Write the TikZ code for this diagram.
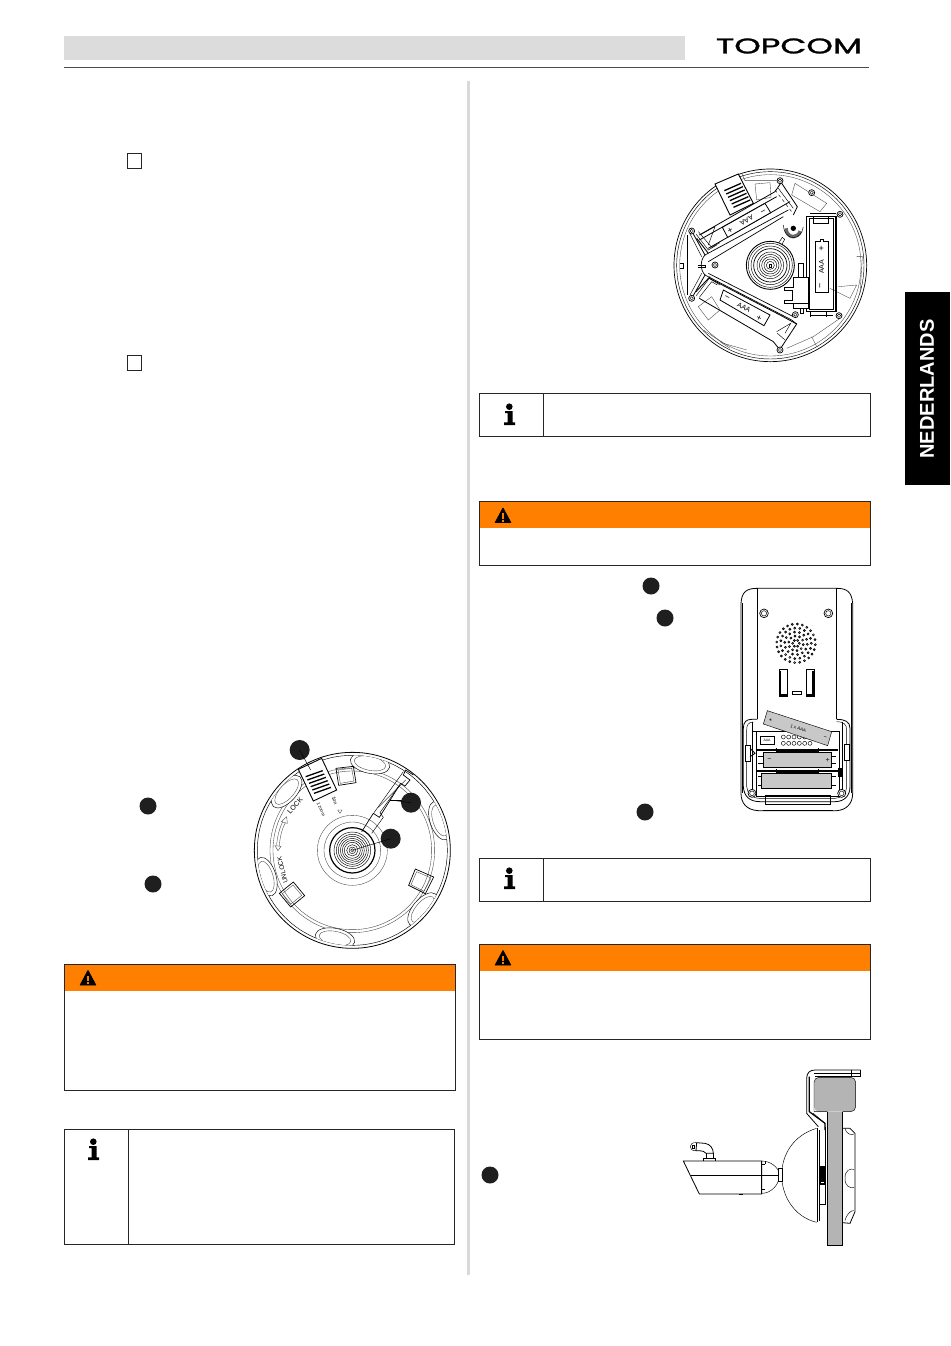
\documentclass[tikz,border=0pt]{standalone}
\usepackage{fontspec}
\usepackage{graphicx}
\setmainfont{Liberation Sans}
\newfontfamily\logofont[FakeBold=1.2]{Poppins}
\definecolor{hdr}{HTML}{DCDCDC}
\definecolor{sep}{HTML}{D9D9D9}
\definecolor{orng}{HTML}{FF7F00}
\definecolor{wallg}{HTML}{B4B4B4}
\definecolor{batg}{HTML}{C8C8C8}
\tikzset{
 thin1/.style={draw=black,line width=0.45pt},
 thin2/.style={draw=black!75,line width=0.35pt},
 thick1/.style={draw=black,line width=0.9pt},
 thick2/.style={draw=black,line width=1.5pt},
 box/.style={draw=black!85,line width=1pt},
 marker/.style={fill=black!88,draw=none},
 zoomed/.style={x=0.33333pt,y=-0.33333pt},
 infoicon/.pic={
  \fill (-0.7,-9.3) circle [radius=3.3];
  \fill (-5,-5) -- (2.7,-5) -- (2.7,6.3) -- (5,6.3) -- (5,9) -- (-6,9) -- (-6,6.3) -- (-2.5,6.3) -- (-2.5,-3) -- (-5,-3) -- cycle;
 },
 warnicon/.pic={
  \fill[line join=round,draw=black,line width=0.8pt] (0,-7.5) -- (7.8,7) -- (-7.8,7) -- cycle;
  \fill[orng] (-1,-2.5) rectangle (1,3);
  \fill[orng] (-1,4) rectangle (1,6);
 }
}
\begin{document}
\begin{tikzpicture}[x=1pt,y=-1pt]
\useasboundingbox (0,0) rectangle (950,1346);
\fill[white] (0,0) rectangle (950,1346);
% header
\fill[hdr] (64,36) rectangle (685,60);
\draw[draw=black!70,line width=1pt] (64,68) -- (869,68);
\node[anchor=center,inner sep=0pt] (logo) at (789,46) {\resizebox{146pt}{15pt}{\logofont TOPCOM}};
% separator
\draw[sep,line width=3pt] (468,81) -- (468,1275);
% language tab
\fill[black] (905,292) rectangle (950,485);
\node[rotate=90,text=white,font=\bfseries\fontsize{20}{20}\selectfont,inner sep=0pt] (tab) at (927,389) {NEDERLANDS};
% checkboxes
\draw[box,line width=0.8pt] (127,153) rectangle (141,168);
\draw[box,line width=0.8pt] (127,355) rectangle (141,370);
% info boxes
\draw[box] (479,393) rectangle (870,436); \draw[box] (543,393) -- (543,436);
\pic at (510,416) {infoicon};
\draw[box] (479,858) rectangle (870,901); \draw[box] (543,858) -- (543,901);
\pic at (510,880) {infoicon};
\draw[box] (64,1129) rectangle (454,1244); \draw[box] (128,1129) -- (128,1244);
\pic at (94,1151) {infoicon};
% warning boxes
\fill[orng] (479,501) rectangle (870,528); \draw[box] (479,501) rectangle (870,565);
\pic at (503,515.5) {warnicon};
\fill[orng] (479,944) rectangle (870,971); \draw[box] (479,944) rectangle (870,1039);
\pic at (503,958) {warnicon};
\fill[orng] (64,964) rectangle (455,991); \draw[box] (64,964) rectangle (455,1090);
\pic at (88,978) {warnicon};
% text markers
\foreach \p in {(148,806),(153,884),(651,586),(665,618),(645,812),(490,1175)}
  \fill[marker] \p circle [radius=8.5];
%% FIGURE 1
\begin{scope}[xshift=240pt,yshift=-730pt,zoomed]
 \coordinate (c1) at (337,361);
 \draw[thin1,line width=0.8pt] (c1) circle [radius=294];
 \draw[thin1] (c1) circle [radius=285];
 \draw[thin2] (c1) circle [radius=247];
 \draw[thin2] (c1) circle [radius=238];
 \begin{scope}
  \clip (c1) circle [radius=285];
  \foreach \x/\y/\rot in {390/100/-11.5,600/272/-71.6,140/185/48,78/440/107,285/625/169,548/538/-130}{
   \draw[thin1,fill=white,rotate around={\rot:(\x,\y)}] (\x,\y) ellipse [x radius=60,y radius=30];
   \draw[thin2,rotate around={\rot:(\x,\y)}] (\x,\y) ellipse [x radius=48,y radius=21];
  }
 \end{scope}
 % hub
 \draw[thin2] (c1) circle [radius=105];
 \draw[thin2] (c1) circle [radius=85];
 \draw[thick1,line width=1.2pt] (c1) circle [radius=68];
 \foreach \r in {55,48,42,36,30,24,17,10,5}
  \draw[thin1] (c1) circle [radius=\r];
 % grip
 \draw[thick1,fill=white] (175,118) -- (245,85) -- (290,180) -- (220,213) -- cycle;
 \foreach \t in {0,1,2,3,4,5}{
  \draw[black,line width=1.3pt] ({197+\t*5},{140+\t*10}) -- ({248+\t*5},{122+\t*10});
 }
 % squares
 \draw[thin1,line width=0.7pt] (288,115) -- (340,109) -- (348,158) -- (296,166) -- cycle;
 \draw[thin2] (294,120) -- (335,115) -- (342,153) -- (301,160) -- cycle;
 \draw[thin1,line width=0.7pt] (526,417) -- (581,441) -- (556,491) -- (506,466) -- cycle;
 \draw[thin2] (530,425) -- (573,444) -- (552,484) -- (513,464) -- cycle;
 \draw[thin1,line width=0.7pt] (118,490) -- (160,456) -- (194,497) -- (152,531) -- cycle;
 \draw[thin2] (127,491) -- (159,465) -- (185,496) -- (153,522) -- cycle;
 % slot
 \draw[thin1,line width=0.7pt] (365,305) -- (400,250) -- (418,262) -- (482,160) -- (495,168) -- (510,150) -- (490,135) -- (497,120) -- (520,135);
 \draw[thin1] (395,310) -- (430,262) -- (420,248) -- (475,170);
 \draw[thin1] (402,248) -- (490,125);
 \draw[thin1] (415,232) -- (497,150);
 \draw[thin1] (450,210) -- (490,210);
 % labels
 \node[rotate=48,inner sep=0pt,font=\fontsize{7}{7}\selectfont] (lock) at (165,226) {LOCK};
 \node[rotate=104,inner sep=0pt,font=\fontsize{6.5}{6.5}\selectfont] (unlock) at (127,420) {UNLOCK};
 \node[rotate=-66,inner sep=0pt,font=\fontsize{4.5}{4.5}\selectfont] (zoomtxt) at (243,238) {1 zoom};
 \node[rotate=-72,inner sep=0pt,font=\fontsize{5}{5}\selectfont] (ontxt) at (284,212) {1on};
 \draw[thin2] (293,240) -- (306,240) -- (300,250) -- cycle;
 \draw[thin2] (110,345) .. controls (112,320) and (118,295) .. (128,275);
 \draw[thin2] (118,347) .. controls (120,320) and (126,297) .. (136,278);
 \draw[thin2] (105,347) -- (123,349) -- (114,362) -- cycle;
 \draw[thin2] (124,275) -- (142,280) -- (140,260) -- cycle;
 % callouts
 \fill[marker] (179,60) coordinate (d1) circle [radius=30];
 \fill[marker] (513,218) coordinate (d2) circle [radius=30];
 \fill[marker] (452,326) coordinate (d3) circle [radius=30];
 \draw[thin1] (d1) -- (212,120);
 \draw[thin1] (d2) -- (450,210);
 \draw[thin1] (d3) -- (c1);
\end{scope}
%% FIGURE 2
\begin{scope}[xshift=660pt,yshift=-160pt,zoomed]
 \coordinate (c2) at (331,316);
 \draw[thin1,line width=0.7pt] (c2) circle [radius=289];
 \draw[thin1] (c2) circle [radius=281];
 \draw[thin2] (c2) circle [radius=272];
 % inner partial walls
 \draw[thin2] (245,40) -- (255,62) -- (350,62);
 \draw[thin2] (405,70) -- (500,130) -- (480,155) -- (395,105) -- cycle;
 \draw[thin2] (510,385) -- (570,415) -- (590,375) -- (535,380);
 \draw[thin2] (380,565) -- (460,530) -- (540,475);
 \draw[thin2] (115,440) -- (155,410) -- (180,450) -- (145,480) -- cycle;
 \draw[thin2] (130,510) -- (190,550) -- (260,570);
 \draw[thin2] (590,290) -- (607,290) -- (600,400);
 \draw[thin2] (285,72) -- (330,68) -- (333,112) -- (290,120) -- cycle;
 \draw[thin2] (180,545) -- (210,565);
 \draw[thin2] (455,530) -- (470,560);
 % grip
 \draw[thick1,fill=white] (165,72) -- (235,42) -- (280,130) -- (210,165) -- cycle;
 \foreach \t in {0,1,2,3,4,5}{
  \draw[black,line width=1.3pt] ({193+\t*5.5},{92+\t*10}) -- ({243+\t*5.5},{70+\t*10});
 }
 % triangular frame
 \draw[thick1,line width=0.7pt] (135,285) -- (385,150) (135,345) -- (395,480) -- (410,492);
 \draw[thick1,line width=0.7pt] (145,305) -- (370,170);
 \draw[thick1,line width=0.7pt] (145,340) -- (400,470);
 \draw[thin1,line width=0.7pt] (135,285) .. controls (120,300) and (120,330) .. (135,345);
 % left plate
 \draw[thin1,line width=0.8pt] (95,213) -- (135,285) (95,415) -- (135,345);
 \draw[thin1,line width=0.8pt] (82,225) -- (82,405);
 \draw[thin1] (90,222) -- (125,290) (90,405) -- (125,340);
 \draw[thin1] (60,310) -- (70,310) -- (70,325) -- (60,325) (115,315) -- (135,315) -- (135,322) -- (115,322);
 \draw[thin1] (108,222) -- (145,270) -- (170,255);
 \draw[thin1] (115,215) -- (155,262) -- (180,248);
 \draw[thin1] (108,408) -- (148,355) -- (180,375);
 \draw[thin1] (118,412) -- (155,365) -- (172,375);
 \draw[thick1] (108,395) -- (150,350) (110,235) -- (145,280);
 \draw[thin1] (120,225) -- (165,200) -- (145,255);
 % top holder
 \draw[thin1,line width=0.8pt] (118,225) -- (345,95) -- (362,70) (360,62) -- (412,140) -- (400,165);
 \draw[thin1,line width=0.8pt] (118,240) -- (350,110) (145,265) -- (390,125);
 \draw[thin1] (355,85) -- (400,145);
 \draw[thin1,dashed] (345,90) -- (395,155);
 % battery top
 \draw[thick1,line width=0.8pt,fill=white] (187,202) -- (315,130) -- (332,158) -- (203,232) -- cycle;
 \node[rotate=-150,inner sep=0pt,font=\fontsize{7}{7}\selectfont] (bt) at (260,181) {AAA};
 \node[rotate=-150,inner sep=0pt,font=\fontsize{9}{9}\selectfont] (bt1) at (210,210) {+};
 \node[rotate=-150,inner sep=0pt,font=\fontsize{9}{9}\selectfont] (bt2) at (307,150) {−};
 % bottom holder
 \draw[thin1,line width=0.8pt] (148,355) -- (360,465) -- (410,492) -- (362,565);
 \draw[thin1,line width=0.8pt] (118,415) -- (340,545) -- (360,570);
 \draw[thin1] (350,515) -- (392,490) -- (375,520) (352,520) -- (375,540);
 % battery bottom
 \draw[thick1,line width=0.8pt,fill=white] (190,390) -- (180,420) -- (312,497) -- (330,465) -- cycle;
 \node[rotate=-28,inner sep=0pt,font=\fontsize{7}{7}\selectfont] (bb) at (252,442) {AAA};
 \node[rotate=-28,inner sep=0pt,font=\fontsize{9}{9}\selectfont] (bb1) at (200,415) {−};
 \node[rotate=-28,inner sep=0pt,font=\fontsize{9}{9}\selectfont] (bb2) at (297,475) {+};
 % right holder
 \draw[black,line width=1.5pt] (440,170) rectangle (528,455);
 \draw[black,line width=1pt] (450,160) -- (528,160) (450,465) -- (520,465);
 \draw[thin1] (448,175) rectangle (520,447);
 \draw[thin1] (460,170) -- (460,190) -- (505,190) -- (505,170);
 \draw[thin1] (450,455) -- (450,470) (500,455) -- (500,470);
 \draw[thick1,line width=0.8pt,fill=white] (467,245) -- (480,245) -- (480,238) -- (490,238) -- (490,245) -- (505,245) -- (505,397) -- (467,397) -- cycle;
 \node[rotate=90,inner sep=0pt,font=\fontsize{7}{7}\selectfont] (br) at (484,320) {AAA};
 \node[inner sep=0pt,font=\fontsize{9}{9}\selectfont] (br1) at (484,266) {+};
 \node[rotate=90,inner sep=0pt,font=\fontsize{9}{9}\selectfont] (br2) at (484,379) {−};
 % screws
 \foreach \x/\y in {95/213,95/415,360/62,360/570,540/163,537/467,406/464,455/98,165/315}{
  \draw[thin1,line width=0.7pt,fill=white] (\x,\y) circle [radius=9];
  \draw[thin1] (\x,\y) circle [radius=5];
 }
 % knob
 \draw[black!60,line width=3.5pt] (378,205) arc (180:20:22 and 25);
 \draw[thin1] (370,195) arc (180:10:30 and 38);
 \fill[black] (400,205) circle [radius=8];
 \draw[thin1] (352,255) -- (367,232) -- (374,238) -- (362,260);
 % hub
 \draw[thick1,fill=white] (c2) circle [radius=72];
 \draw[thin1] (c2) circle [radius=66];
 \draw[thin1] (c2) circle [radius=58];
 \draw[thick1,line width=0.7pt] (c2) circle [radius=50];
 \foreach \r in {40,33,26,19,12}
  \draw[thin1] (c2) circle [radius=\r];
 \draw[thin1] (327,312) rectangle (335,321);
 % motor
 \draw[thin1,line width=0.8pt,fill=white] (400,352) -- (445,352) -- (445,445) -- (400,445) -- (400,430) -- (372,430) -- (372,382) -- (400,382) -- cycle;
 \draw[thick1,fill=white] (372,390) -- (397,390) -- (397,422) -- (372,422);
 \draw[thin1] (415,352) -- (415,310) -- (430,310) -- (430,352);
 \draw[thin1] (400,430) -- (445,430);
 \draw[thin1] (422,445) -- (422,460) -- (430,460) -- (430,445);
\end{scope}
%% FIGURE 3
\begin{scope}[xshift=730pt,yshift=-580pt,zoomed]
 \draw[thin1,line width=0.8pt] (82,25) .. controls (50,25) and (35,35) .. (33,70) -- (33,640) .. controls (33,670) and (50,690) .. (85,692) -- (320,692) .. controls (350,690) and (368,670) .. (368,640) -- (368,70) .. controls (365,35) and (350,25) .. (320,25) -- cycle;
 \draw[thin1] (38,70) -- (38,640);
 \draw[thin1] (364,70) -- (364,640);
 \draw[thin1,line width=0.8pt] (82,25) -- (82,418) (320,25) -- (320,418);
 \foreach \x in {102,295}{
  \draw[thin1,line width=0.7pt] (\x,100) circle [radius=13];
  \draw[thin1] (\x,100) circle [radius=8];
 }
 % speaker
 \foreach \r/\n/\o in {10/6/0,22/10/10,34/14/5,46/19/0,58/24/4}
  \foreach \i in {1,...,\n}
   \draw[black,line width=0.65pt] ({198+\r*cos(\i*360/\n+\o)},{190+\r*sin(\i*360/\n+\o)}) circle [radius=3];
 % slots
 \draw[thin1,line width=0.9pt] (148,268) rectangle (172,348);
 \draw[black,line width=2pt] (151,272) -- (151,345) -- (170,345);
 \draw[thin1,line width=0.9pt] (229,268) rectangle (252,348);
 \draw[black,line width=2pt] (248,272) -- (248,345) -- (232,345);
 \draw[thin1,line width=0.8pt] (187,333) rectangle (215,343);
 % compartment
 \draw[thin1,line width=0.8pt,fill=white] (82,418) -- (65,418) .. controls (50,418) and (40,425) .. (40,445) -- (40,620) .. controls (42,650) and (60,665) .. (90,665) -- (315,665) .. controls (340,665) and (360,650) .. (360,620) -- (360,445) .. controls (360,425) and (345,418) .. (320,418);
 \draw[thin1] (70,426) .. controls (55,426) and (50,435) .. (50,450) -- (50,620) .. controls (52,640) and (65,655) .. (90,655) -- (315,655) .. controls (335,655) and (350,640) .. (350,620) -- (350,450) .. controls (350,432) and (340,425) .. (320,425);
 \draw[thick1] (78,455) -- (328,455) -- (328,650) -- (78,650) -- cycle;
 \draw[thin1] (66,425) -- (66,650) (338,425) -- (338,650);
 \draw[thin1] (70,455) -- (330,455);
 \draw[thick1,line width=1.2pt] (80,510) -- (325,510) (80,573) -- (325,573);
 \draw[thin1] (140,505) -- (140,515) -- (265,515) -- (265,505) (140,568) -- (140,578) -- (265,578) -- (265,568);
 \draw[thick1] (140,625) -- (265,625);
 % clips
 \draw[thick1,fill=white] (45,495) rectangle (60,545);
 \draw[thin1,fill=white] (342,493) rectangle (358,540);
 \draw[thick1] (60,505) -- (75,520) -- (60,530);
 \fill[black] (325,565) rectangle (340,590);
 % label block
 \draw[thick1] (90,470) rectangle (132,493);
 \node[inner sep=0pt,font=\fontsize{3.5}{3.5}\selectfont] (lb) at (111,481) {AAA};
 \foreach \i in {0,...,5}{
  \draw[thin1] ({160+\i*16},471) circle [radius=6];
  \draw[thin1] ({160+\i*16},490) circle [radius=6];
 }
 % bottom tab
 \draw[thin1,line width=0.8pt] (105,673) -- (105,645) -- (300,645) -- (300,673) -- (105,673);
 \draw[thin1] (100,690) -- (310,690);
 % screws
 \foreach \x in {66,335}{
  \draw[thin1,line width=0.7pt,fill=white] (\x,640) circle [radius=12];
  \draw[thin1] (\x,640) circle [radius=7];
 }
 % batteries
 \fill[batg] (100,518) rectangle (305,563);
 \draw[thin1] (100,518) rectangle (305,563);
 \node[inner sep=0pt,font=\fontsize{7}{7}\selectfont] (m1) at (118,540) {−};
 \node[inner sep=0pt,font=\fontsize{7}{7}\selectfont] (p1) at (293,540) {+};
 \fill[batg] (95,579) rectangle (305,625);
 \draw[thin1] (95,579) rectangle (305,625);
 \draw[thin1] (85,530) -- (100,530) (85,550) -- (100,550) (305,530) -- (318,530) (305,550) -- (318,550);
 \draw[thin1] (85,590) -- (95,590) (85,615) -- (95,615) (305,590) -- (318,590) (305,615) -- (318,615);
 % tilted
 \fill[batg] (112,392) -- (305,455) -- (293,497) -- (100,432) -- cycle;
 \draw[thin1] (112,392) -- (305,455) -- (293,497) -- (100,432) -- cycle;
 \node[rotate=-18,inner sep=0pt,font=\fontsize{4.5}{4.5}\selectfont] (tb) at (205,445) {1 x AAA};
 \node[rotate=-18,inner sep=0pt,font=\fontsize{6}{6}\selectfont] (tb1) at (122,420) {+};
 \node[rotate=-18,inner sep=0pt,font=\fontsize{6}{6}\selectfont] (tb2) at (285,475) {−};
\end{scope}
%% FIGURE 4
\begin{scope}[xshift=670pt,yshift=-1060pt,zoomed]
 % wall
 \fill[wallg] (472,155) rectangle (518,555);
 \draw[thin1] (472,155) -- (472,555) -- (518,555) -- (518,155);
 \fill[wallg,rounded corners=5pt] (432,52) rectangle (557,155);
 \draw[thin1,rounded corners=5pt] (432,155) -- (432,52) -- (557,52) -- (557,155) -- (518,155) (472,155) -- (432,155);
 % bracket
 \draw[thin1,line width=0.8pt] (572,30) -- (435,30) .. controls (420,30) and (410,38) .. (410,55) -- (410,160) -- (445,200);
 \draw[thin1,line width=0.7pt] (572,50) -- (572,30);
 \draw[thin1] (572,50) -- (435,50) (432,40) -- (572,40);
 \draw[thin1,line width=1.2pt] (418,50) -- (418,155) -- (465,190) -- (465,210);
 \draw[thin1] (430,160) -- (465,190);
 \draw[thin1] (545,30) -- (545,50);
 \draw[thin1] (465,200) -- (465,430);
 % right side rim
 \draw[thin1,line width=0.8pt] (518,205) -- (540,205) -- (555,220) -- (555,455) -- (540,490) -- (518,488);
 \draw[thin1] (525,205) .. controls (530,225) and (545,225) .. (552,222);
 \draw[thin1] (525,355) .. controls (525,330) and (540,325) .. (552,328) (525,355) .. controls (525,380) and (540,385) .. (552,382);
 \draw[thin1] (525,482) .. controls (530,460) and (545,450) .. (552,452);
 % dome
 \draw[thin1] (440,205) .. controls (370,225) and (335,285) .. (335,345) .. controls (335,405) and (370,470) .. (440,487);
 \draw[black,line width=1.5pt] (443,205) -- (443,487);
 \draw[thin1] (447,210) -- (447,482);
 % mount
 \draw[thin1] (447,320) rectangle (465,432);
 \fill[black] (447,320) rectangle (465,375);
 \fill[white] (452,365) rectangle (462,370);
 % camera
 \draw[thin1,line width=0.8pt,fill=white] (40,303) -- (275,303) -- (275,402) -- (88,402) -- cycle;
 \draw[black,line width=1.3pt] (62,347) -- (325,347);
 \draw[thick1] (275,303) -- (275,402);
 \draw[thin1] (275,303) .. controls (300,303) and (325,320) .. (330,345) .. controls (325,380) and (300,400) .. (275,400);
 \draw[thin1] (275,312) -- (285,312) (275,388) -- (285,388) (285,304) -- (285,312);
 \draw[thin1,line width=0.8pt,fill=white] (325,325) -- (336,325) -- (336,365) -- (325,365) -- cycle;
 \fill[black] (207,402) rectangle (220,405);
 % plug
 \draw[thin1,line width=0.7pt] (100,303) -- (100,295) -- (135,295) -- (135,303);
 \draw[thin1] (108,295) -- (108,278) (130,295) -- (130,278);
 \draw[thin1,line width=0.8pt] (80,248) -- (105,250) .. controls (120,252) and (130,265) .. (130,280) -- (108,280) .. controls (105,275) and (100,272) .. (78,272) -- cycle;
 \draw[thin1] (78,248) .. controls (55,245) and (55,275) .. (78,272);
 \draw[thin1] (66,255) rectangle (72,265);
\end{scope}
\end{tikzpicture}
\end{document}
